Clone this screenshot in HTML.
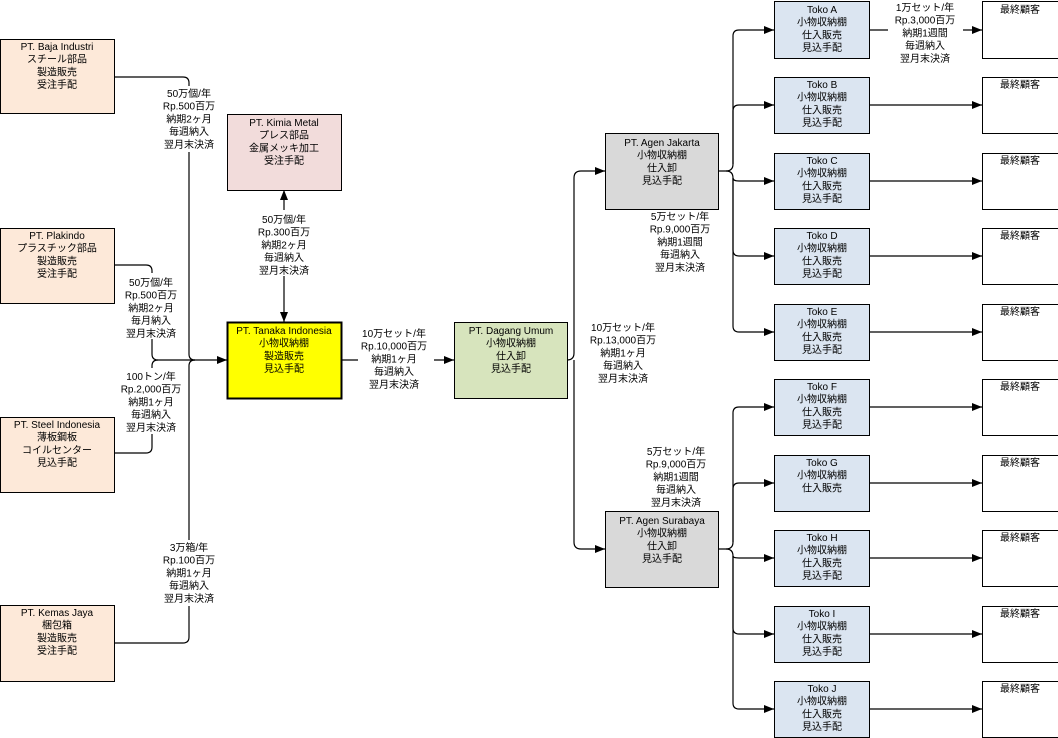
<!DOCTYPE html>
<html><head><meta charset="utf-8"><style>
html,body{margin:0;padding:0;background:#fff;}
svg{display:block;}
text{font-family:"Liberation Sans","Noto Sans CJK JP",sans-serif;font-size:10px;fill:#000;text-anchor:middle;}
</style></head><body>
<svg width="1058" height="738" viewBox="0 0 1058 738" xmlns="http://www.w3.org/2000/svg">
<defs><marker id="a" markerWidth="10" markerHeight="8" refX="10" refY="4" orient="auto" markerUnits="userSpaceOnUse"><path d="M0,0 L10,4 L0,8 z" fill="#000"/></marker>
<marker id="b" markerWidth="10" markerHeight="8" refX="10" refY="4" orient="auto-start-reverse" markerUnits="userSpaceOnUse"><path d="M0,0 L10,4 L0,8 z" fill="#000"/></marker></defs>
<g fill="none" stroke="#000" stroke-width="1.2">
<path d="M114,77 H183 Q189,77 189,83 V354 Q189,360 195,360"/>
<path d="M114,265 H146 Q152,265 152,271 V354 Q152,360 158,360"/>
<path d="M114,453 H146 Q152,453 152,447 V366 Q152,360 158,360"/>
<path d="M114,643 H183 Q189,643 189,637 V366 Q189,360 195,360"/>
<path d="M158,360 H227" marker-end="url(#a)"/>
<path d="M284,322 V190" marker-start="url(#b)" marker-end="url(#a)"/>
<path d="M341,360 H454" marker-end="url(#a)"/>
<path d="M567,360 Q574,360 574,353 V178 Q574,171 581,171 H605" marker-end="url(#a)"/>
<path d="M574,360 V542 Q574,549 581,549 H605" marker-end="url(#a)"/>
<path d="M718,171 H726 Q733,171 733,164 V36 Q733,30 739,30 H774" marker-end="url(#a)"/>
<path d="M726,171 Q733,171 733,178 Q733,181 739,181 H774" marker-end="url(#a)"/>
<path d="M733,164 V111 Q733,105 739,105 H774" marker-end="url(#a)"/>
<path d="M733,178 V326 Q733,332 739,332 H774" marker-end="url(#a)"/>
<path d="M733,178 V250 Q733,256 739,256 H774" marker-end="url(#a)"/>
<path d="M718,549 H726 Q733,549 733,542 V413 Q733,407 739,407 H774" marker-end="url(#a)"/>
<path d="M733,542 V489 Q733,483 739,483 H774" marker-end="url(#a)"/>
<path d="M726,549 Q733,549 733,556 Q733,558 739,558 H774" marker-end="url(#a)"/>
<path d="M733,556 V628 Q733,634 739,634 H774" marker-end="url(#a)"/>
<path d="M733,556 V703 Q733,709 739,709 H774" marker-end="url(#a)"/>
<path d="M869,30 H888"/><path d="M963,30 H982" marker-end="url(#a)"/>
<path d="M869,105 H982" marker-end="url(#a)"/>
<path d="M869,181 H982" marker-end="url(#a)"/>
<path d="M869,256 H982" marker-end="url(#a)"/>
<path d="M869,332 H982" marker-end="url(#a)"/>
<path d="M869,407 H982" marker-end="url(#a)"/>
<path d="M869,483 H982" marker-end="url(#a)"/>
<path d="M869,558 H982" marker-end="url(#a)"/>
<path d="M869,634 H982" marker-end="url(#a)"/>
<path d="M869,709 H982" marker-end="url(#a)"/>
</g>
<g fill="#fff">
<rect x="160" y="86" width="60" height="66"/><rect x="120" y="273" width="62" height="66"/>
<rect x="118" y="368" width="66" height="66"/><rect x="160" y="540" width="60" height="66"/>
<rect x="252" y="210" width="64" height="66"/><rect x="358" y="326" width="76" height="66"/>
<rect x="588" y="320" width="72" height="66"/>
</g>
<g stroke="#000" stroke-width="1">
<rect x="0.5" y="39.5" width="114" height="74" fill="#fde9d9"/>
<rect x="0.5" y="228.5" width="114" height="75" fill="#fde9d9"/>
<rect x="0.5" y="417.5" width="114" height="75" fill="#fde9d9"/>
<rect x="0.5" y="605.5" width="114" height="76" fill="#fde9d9"/>
<rect x="227.5" y="114.5" width="114" height="76" fill="#f2dcdb"/>
<rect x="227.5" y="322.5" width="114" height="76" fill="#ffff00" stroke-width="2"/>
<rect x="454.5" y="322.5" width="113" height="76" fill="#d7e4bd"/>
<rect x="605.5" y="133.5" width="113" height="76" fill="#d9d9d9"/>
<rect x="605.5" y="511.5" width="113" height="76" fill="#d9d9d9"/>
<g fill="#dbe5f1">
<rect x="774.5" y="1.5" width="95" height="57"/><rect x="774.5" y="77.5" width="95" height="56"/>
<rect x="774.5" y="153.5" width="95" height="56"/><rect x="774.5" y="228.5" width="95" height="56"/>
<rect x="774.5" y="304.5" width="95" height="56"/><rect x="774.5" y="379.5" width="95" height="56"/>
<rect x="774.5" y="455.5" width="95" height="56"/><rect x="774.5" y="530.5" width="95" height="56"/>
<rect x="774.5" y="606.5" width="95" height="56"/><rect x="774.5" y="681.5" width="95" height="56"/>
</g>
<g fill="#fff">
<rect x="982.5" y="1.5" width="80" height="57"/><rect x="982.5" y="77.5" width="80" height="56"/>
<rect x="982.5" y="153.5" width="80" height="56"/><rect x="982.5" y="228.5" width="80" height="56"/>
<rect x="982.5" y="304.5" width="80" height="56"/><rect x="982.5" y="379.5" width="80" height="56"/>
<rect x="982.5" y="455.5" width="80" height="56"/><rect x="982.5" y="530.5" width="80" height="56"/>
<rect x="982.5" y="606.5" width="80" height="56"/><rect x="982.5" y="681.5" width="80" height="56"/>
</g>
</g>
<text x="57" y="50">PT. Baja Industri<tspan x="57" dy="12.7">スチール部品</tspan><tspan x="57" dy="12.7">製造販売</tspan><tspan x="57" dy="12.7">受注手配</tspan></text>
<text x="57" y="239">PT. Plakindo<tspan x="57" dy="12.7">プラスチック部品</tspan><tspan x="57" dy="12.7">製造販売</tspan><tspan x="57" dy="12.7">受注手配</tspan></text>
<text x="57" y="428">PT. Steel Indonesia<tspan x="57" dy="12.7">薄板鋼板</tspan><tspan x="57" dy="12.7">コイルセンター</tspan><tspan x="57" dy="12.7">見込手配</tspan></text>
<text x="57" y="616">PT. Kemas Jaya<tspan x="57" dy="12.7">梱包箱</tspan><tspan x="57" dy="12.7">製造販売</tspan><tspan x="57" dy="12.7">受注手配</tspan></text>
<text x="284" y="126">PT. Kimia Metal<tspan x="284" dy="12.7">プレス部品</tspan><tspan x="284" dy="12.7">金属メッキ加工</tspan><tspan x="284" dy="12.7">受注手配</tspan></text>
<text x="284" y="334">PT. Tanaka Indonesia<tspan x="284" dy="12.7">小物収納棚</tspan><tspan x="284" dy="12.7">製造販売</tspan><tspan x="284" dy="12.7">見込手配</tspan></text>
<text x="511" y="334">PT. Dagang Umum<tspan x="511" dy="12.7">小物収納棚</tspan><tspan x="511" dy="12.7">仕入卸</tspan><tspan x="511" dy="12.7">見込手配</tspan></text>
<text x="662" y="146">PT. Agen Jakarta<tspan x="662" dy="12.7">小物収納棚</tspan><tspan x="662" dy="12.7">仕入卸</tspan><tspan x="662" dy="12.7">見込手配</tspan></text>
<text x="662" y="524">PT. Agen Surabaya<tspan x="662" dy="12.7">小物収納棚</tspan><tspan x="662" dy="12.7">仕入卸</tspan><tspan x="662" dy="12.7">見込手配</tspan></text>
<g>
<text x="822" y="13">Toko A<tspan x="822" dy="12.7">小物収納棚</tspan><tspan x="822" dy="12.7">仕入販売</tspan><tspan x="822" dy="12.7">見込手配</tspan></text>
<text x="822" y="88">Toko B<tspan x="822" dy="12.7">小物収納棚</tspan><tspan x="822" dy="12.7">仕入販売</tspan><tspan x="822" dy="12.7">見込手配</tspan></text>
<text x="822" y="164">Toko C<tspan x="822" dy="12.7">小物収納棚</tspan><tspan x="822" dy="12.7">仕入販売</tspan><tspan x="822" dy="12.7">見込手配</tspan></text>
<text x="822" y="239">Toko D<tspan x="822" dy="12.7">小物収納棚</tspan><tspan x="822" dy="12.7">仕入販売</tspan><tspan x="822" dy="12.7">見込手配</tspan></text>
<text x="822" y="315">Toko E<tspan x="822" dy="12.7">小物収納棚</tspan><tspan x="822" dy="12.7">仕入販売</tspan><tspan x="822" dy="12.7">見込手配</tspan></text>
<text x="822" y="390">Toko F<tspan x="822" dy="12.7">小物収納棚</tspan><tspan x="822" dy="12.7">仕入販売</tspan><tspan x="822" dy="12.7">見込手配</tspan></text>
<text x="822" y="466">Toko G<tspan x="822" dy="12.7">小物収納棚</tspan><tspan x="822" dy="12.7">仕入販売</tspan></text>
<text x="822" y="541">Toko H<tspan x="822" dy="12.7">小物収納棚</tspan><tspan x="822" dy="12.7">仕入販売</tspan><tspan x="822" dy="12.7">見込手配</tspan></text>
<text x="822" y="617">Toko I<tspan x="822" dy="12.7">小物収納棚</tspan><tspan x="822" dy="12.7">仕入販売</tspan><tspan x="822" dy="12.7">見込手配</tspan></text>
<text x="822" y="692">Toko J<tspan x="822" dy="12.7">小物収納棚</tspan><tspan x="822" dy="12.7">仕入販売</tspan><tspan x="822" dy="12.7">見込手配</tspan></text>
</g>
<g>
<text x="1020" y="13">最終顧客</text><text x="1020" y="88">最終顧客</text><text x="1020" y="164">最終顧客</text>
<text x="1020" y="239">最終顧客</text><text x="1020" y="315">最終顧客</text><text x="1020" y="390">最終顧客</text>
<text x="1020" y="466">最終顧客</text><text x="1020" y="541">最終顧客</text><text x="1020" y="617">最終顧客</text>
<text x="1020" y="692">最終顧客</text>
</g>
<text x="189" y="97">50万個/年<tspan x="189" dy="12.7">Rp.500百万</tspan><tspan x="189" dy="12.7">納期2ヶ月</tspan><tspan x="189" dy="12.7">毎週納入</tspan><tspan x="189" dy="12.7">翌月末決済</tspan></text>
<text x="151" y="286">50万個/年<tspan x="151" dy="12.7">Rp.500百万</tspan><tspan x="151" dy="12.7">納期2ヶ月</tspan><tspan x="151" dy="12.7">毎月納入</tspan><tspan x="151" dy="12.7">翌月末決済</tspan></text>
<text x="151" y="380">100トン/年<tspan x="151" dy="12.7">Rp.2,000百万</tspan><tspan x="151" dy="12.7">納期1ヶ月</tspan><tspan x="151" dy="12.7">毎週納入</tspan><tspan x="151" dy="12.7">翌月末決済</tspan></text>
<text x="189" y="551">3万箱/年<tspan x="189" dy="12.7">Rp.100百万</tspan><tspan x="189" dy="12.7">納期1ヶ月</tspan><tspan x="189" dy="12.7">毎週納入</tspan><tspan x="189" dy="12.7">翌月末決済</tspan></text>
<text x="284" y="223">50万個/年<tspan x="284" dy="12.7">Rp.300百万</tspan><tspan x="284" dy="12.7">納期2ヶ月</tspan><tspan x="284" dy="12.7">毎週納入</tspan><tspan x="284" dy="12.7">翌月末決済</tspan></text>
<text x="394" y="337">10万セット/年<tspan x="394" dy="12.7">Rp.10,000百万</tspan><tspan x="394" dy="12.7">納期1ヶ月</tspan><tspan x="394" dy="12.7">毎週納入</tspan><tspan x="394" dy="12.7">翌月末決済</tspan></text>
<text x="623" y="331">10万セット/年<tspan x="623" dy="12.7">Rp.13,000百万</tspan><tspan x="623" dy="12.7">納期1ヶ月</tspan><tspan x="623" dy="12.7">毎週納入</tspan><tspan x="623" dy="12.7">翌月末決済</tspan></text>
<text x="680" y="220">5万セット/年<tspan x="680" dy="12.7">Rp.9,000百万</tspan><tspan x="680" dy="12.7">納期1週間</tspan><tspan x="680" dy="12.7">毎週納入</tspan><tspan x="680" dy="12.7">翌月末決済</tspan></text>
<text x="676" y="455">5万セット/年<tspan x="676" dy="12.7">Rp.9,000百万</tspan><tspan x="676" dy="12.7">納期1週間</tspan><tspan x="676" dy="12.7">毎週納入</tspan><tspan x="676" dy="12.7">翌月末決済</tspan></text>
<text x="925" y="11">1万セット/年<tspan x="925" dy="12.7">Rp.3,000百万</tspan><tspan x="925" dy="12.7">納期1週間</tspan><tspan x="925" dy="12.7">毎週納入</tspan><tspan x="925" dy="12.7">翌月末決済</tspan></text>
</svg>
</body></html>
